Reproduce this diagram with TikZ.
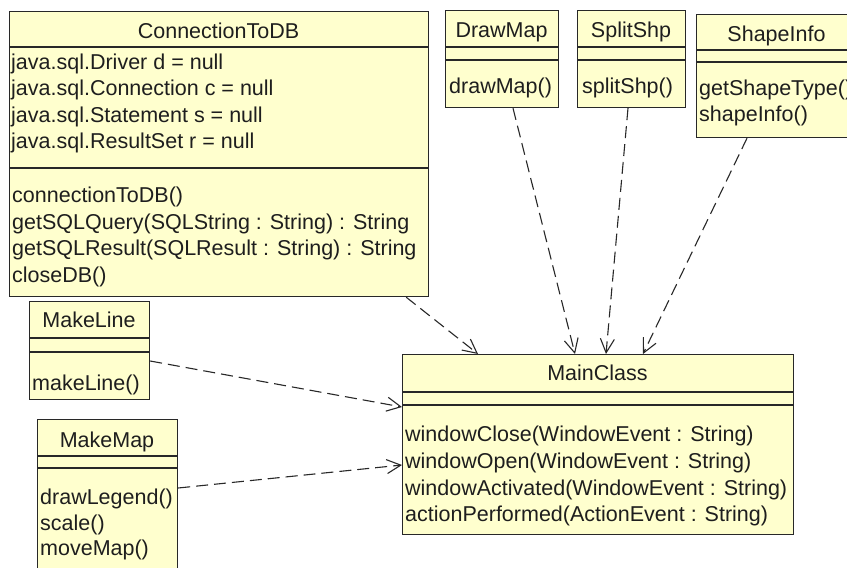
\documentclass[tikz,border=0pt]{standalone}
\usepackage{fontspec}
\setmainfont{Liberation Sans}
\usetikzlibrary{arrows.meta}
\definecolor{umlfill}{RGB}{255,255,206}
\definecolor{umlline}{RGB}{40,40,40}
\definecolor{umltext}{RGB}{30,30,30}
\tikzset{
  umlbox/.style={draw=umlline, fill=umlfill, line width=1.2pt, inner sep=0pt, anchor=north west},
  seprule/.style={draw=umlline, line width=1.2pt},
  ttl/.style={anchor=base, inner sep=0pt, text=umltext},
  itm/.style={anchor=base west, inner sep=0pt, text=umltext},
  dep/.style={draw=umlline, line width=1.1pt, dash pattern=on 12pt off 6pt,
              -{Straight Barb[length=14pt,width=14pt,line width=1.1pt]}}
}
\newcommand\umlsep[2]{\draw[seprule] ([yshift=-#2pt]#1.north west) -- ([yshift=-#2pt]#1.north east);}
\begin{document}
\begin{tikzpicture}[x=1pt,y=-1pt]
\fontsize{21.5}{26.7}\selectfont
\useasboundingbox (0,0) rectangle (847,568);
\clip (0,0) rectangle (847,568);
\fill[white] (0,0) rectangle (847,568);

% ConnectionToDB
\node[umlbox, minimum width=419pt, minimum height=285pt] (ctdb) at (9,11) {};
\umlsep{ctdb}{36}
\umlsep{ctdb}{157}
\node[ttl] (ctdbT) at (218.5,38) {ConnectionToDB};
\node[itm] (ctdbA1) at (11,69) {java.sql.Driver d = null};
\node[itm] (ctdbA2) at (11,95) {java.sql.Connection c = null};
\node[itm] (ctdbA3) at (11,122) {java.sql.Statement s = null};
\node[itm] (ctdbA4) at (11,148) {java.sql.ResultSet r = null};
\node[itm] (ctdbM1) at (12,202) {connectionToDB()};
\node[itm] (ctdbM2) at (12,229) {getSQLQuery(SQLString : String) : String};
\node[itm] (ctdbM3) at (12,255) {getSQLResult(SQLResult : String) : String};
\node[itm] (ctdbM4) at (12,282) {closeDB()};

% DrawMap
\node[umlbox, minimum width=113pt, minimum height=97pt] (drawmap) at (445,10) {};
\umlsep{drawmap}{37}
\umlsep{drawmap}{50}
\node[ttl] (drawmapT) at (501.5,37) {DrawMap};
\node[itm] (drawmapM1) at (449,93) {drawMap()};

% SplitShp
\node[umlbox, minimum width=108pt, minimum height=97pt] (splitshp) at (577,10) {};
\umlsep{splitshp}{37}
\umlsep{splitshp}{50}
\node[ttl] (splitshpT) at (631,37) {SplitShp};
\node[itm] (splitshpM1) at (582,93) {splitShp()};

% ShapeInfo
\node[umlbox, minimum width=161pt, minimum height=123pt] (shapeinfo) at (696,14) {};
\umlsep{shapeinfo}{36}
\umlsep{shapeinfo}{48}
\node[ttl] (shapeinfoT) at (776.5,41) {ShapeInfo};
\node[itm] (shapeinfoM1) at (699,95) {getShapeType()};
\node[itm] (shapeinfoM2) at (699,121) {shapeInfo()};

% MakeLine
\node[umlbox, minimum width=120pt, minimum height=98pt] (makeline) at (29,301) {};
\umlsep{makeline}{37}
\umlsep{makeline}{51}
\node[ttl] (makelineT) at (89,327) {MakeLine};
\node[itm] (makelineM1) at (32,390) {makeLine()};

% MakeMap
\node[umlbox, minimum width=140pt, minimum height=170pt] (makemap) at (37,419) {};
\umlsep{makemap}{37}
\umlsep{makemap}{49}
\node[ttl] (makemapT) at (107,447) {MakeMap};
\node[itm] (makemapM1) at (40,504) {drawLegend()};
\node[itm] (makemapM2) at (40,530) {scale()};
\node[itm] (makemapM3) at (40,555) {moveMap()};

% MainClass
\node[umlbox, minimum width=391pt, minimum height=180pt] (main) at (402,354) {};
\umlsep{main}{38}
\umlsep{main}{51}
\node[ttl] (mainT) at (597.5,380) {MainClass};
\node[itm] (mainM1) at (405,441) {windowClose(WindowEvent : String)};
\node[itm] (mainM2) at (405,468) {windowOpen(WindowEvent : String)};
\node[itm] (mainM3) at (405,495) {windowActivated(WindowEvent : String)};
\node[itm] (mainM4) at (405,521) {actionPerformed(ActionEvent : String)};

% dependencies
\draw[dep] ([xshift=-23pt]ctdb.south east) -- ([xshift=76pt]main.north west);
\draw[dep] ([xshift=68pt]drawmap.south west) -- ([xshift=173pt]main.north west);
\draw[dep] ([xshift=51pt]splitshp.south west) -- ([xshift=204pt]main.north west);
\draw[dep] ([xshift=51pt]shapeinfo.south west) -- ([xshift=241pt]main.north west);
\draw[dep] ([yshift=-60pt]makeline.north east) -- ([yshift=-53pt]main.north west);
\draw[dep] ([yshift=-69pt]makemap.north east) -- ([yshift=-111pt]main.north west);
\end{tikzpicture}
\end{document}
